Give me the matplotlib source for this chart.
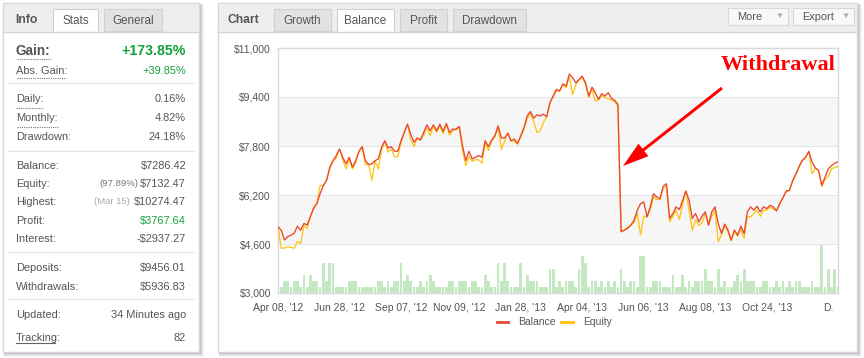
import matplotlib
matplotlib.use('Agg')
import matplotlib.pyplot as plt
from matplotlib.patches import Rectangle, FancyArrow
import numpy as np

# ---------------- data ----------------
balance = [
    5160, 5050, 4730, 4840, 4890, 4950, 5180, 5050, 5270, 5220, 5490, 5760, 5920, 6240, 6510,
    6680, 7110, 7320, 7490, 7700, 7430, 7220, 7430, 7110, 7320, 7630, 7780, 7320, 7200, 7220,
    7320, 7380, 7760, 7970, 7740, 7780, 7630, 7630, 7970, 8240, 8510, 8190, 7920, 8060,
    7995, 8243, 8492, 8297, 8492, 8297, 8514, 8276, 8535, 8243, 8351, 8351, 8438, 7811, 7324,
    7627, 7378, 7432, 7487, 7432, 7973, 7778, 7995, 8135, 8460, 8060, 8060, 8211, 7973, 8027,
    7887, 8135, 8405, 8784, 8924, 8708, 8816, 8784, 8838, 8751, 9216, 9432, 9649,
    9594, 9832, 9757, 10150, 10027, 9865, 9973, 10081, 9865, 9432, 9724, 9540, 9324, 9508, 9432,
    9540, 9357, 9292, 9162, 5000, 5054, 5108, 5216, 5378, 5703, 5919, 5973, 5486, 5811, 6243,
    6135, 6081, 6481, 6568, 5432, 5595, 5811, 5725, 6027, 6330, 6027, 5432, 5595, 5324, 5508,
    5649, 5216, 5649, 5811, 5270, 4946, 5249, 5054, 4730, 5054, 4892, 5184, 4946, 5649, 5811,
    5703, 5832, 5649, 5811, 5757, 5865, 5811, 5681, 5919, 6113, 6330, 6351, 6676, 6892, 7130,
    7324, 7432, 7627, 7270, 7086, 7000, 6514, 6784, 7054, 7162, 7238, 7286,
]
equity = [
    5160, 4460, 4470, 4510, 4490, 4460, 4680, 4620, 5200, 5110, 5490, 5800, 5920, 6510, 6510,
    6680, 7050, 7300, 7400, 7700, 7350, 7050, 7380, 7050, 7250, 7600, 7780, 7180, 7200, 6680,
    7300, 7050, 7700, 7950, 7600, 7700, 7450, 7450, 7900, 8240, 8510, 8000, 7780, 8060,
    7995, 8150, 8400, 8140, 8450, 8250, 8450, 8200, 8500, 8150, 8300, 8330, 8400, 7650, 7160,
    7450, 7300, 7350, 7350, 7240, 7900, 7650, 7950, 8100, 8400, 7700, 7950, 8240, 7950, 7950,
    7850, 8100, 8350, 8700, 8850, 8600, 8240, 8300, 8570, 8750, 9200, 9400, 9600,
    9594, 9800, 9700, 10050, 9480, 9800, 9950, 10050, 9800, 9380, 9650, 9270, 9300, 9450, 9380,
    9350, 9300, 9250, 9100, 5000, 5054, 5150, 5200, 5300, 5600, 4890, 5500, 5486, 5700, 6150,
    6050, 6050, 6400, 6500, 5324, 5500, 5700, 5400, 5900, 6330, 5700, 5054, 5400, 5200, 5300,
    5600, 5216, 5500, 5700, 4676, 4900, 5200, 5000, 4700, 5000, 4850, 5100, 4784, 5500, 5486,
    5600, 5700, 5500, 5700, 5700, 5800, 5750, 5681, 5900, 6113, 6300, 6351, 6650, 6850, 7130,
    7350, 7432, 7600, 6892, 7086, 7000, 6481, 6700, 6808, 7054, 7100, 7132,
]
volume = [
    3180, 3180, 3380, 3380, 3180, 3380, 3380, 3180, 3600, 3180,
    3600, 3380, 3380, 3180, 3980, 3380, 3980, 3980, 3180, 3180,
    3180, 3180, 3380, 3380, 3380, 3180, 3180, 3180, 3180, 3180,
    3180, 3380, 3380, 3180, 3380, 3180, 3380, 3380, 3980, 3380,
    3600, 3380, 3180, 3180, 3380, 3180, 3380, 3600, 3380, 3180,
    3180, 3180, 3180, 3380, 3380, 3180, 3380, 3380, 3380, 3180,
    3380, 3380, 3180, 3180, 3600, 3380, 3180, 3180, 3980, 3380,
    3980, 3380, 3180, 3180, 3180, 3980, 3180, 3600, 3380, 3380,
    3380, 3180, 3180, 3180, 3780, 3780, 3180, 3380, 3180, 3380,
    3380, 3380, 3180, 3780, 4200, 3980, 3180, 3380, 3380, 3180,
    3380, 3180, 3380, 3180, 3380, 3180, 3780, 3380, 3180, 3380,
    3380, 3180, 4200, 4200, 3180, 3180, 3380, 3380, 3380, 3180,
    3180, 3180, 3600, 3180, 3180, 3600, 3180, 3380, 3180, 3380,
    3380, 3380, 3780, 3380, 3380, 3180, 3780, 3180, 3380, 3180,
    3180, 3380, 3600, 3380, 3780, 3380, 3380, 3380, 3180, 3180,
    3380, 3380, 3180, 3180, 3380, 3180, 3380, 3180, 3380, 3180,
    3380, 3380, 3180, 3180, 3180, 3380, 3180, 3180, 4580, 3180,
    3780, 3180, 3780, 3180,
]
x_tick_idx = [0, 19, 38, 56, 75, 94, 113, 132, 151, 170]
x_tick_labels = ["Apr 08, '12", "Jun 28, '12", "Sep 07, '12", "Nov 09, '12", "Jan 28, '13",
                 "Apr 04, '13", "Jun 06, '13", "Aug 08, '13", "Oct 24, '13", "D."]
y_ticks = [3000, 4600, 6200, 7800, 9400, 11000]
y_tick_labels = ["$3,000", "$4,600", "$6,200", "$7,800", "$9,400", "$11,000"]

info_rows = [
    ("Daily:", "0.16%"), ("Monthly:", "4.82%"), ("Drawdown:", "24.18%"),
    ("Balance:", "$7286.42"), ("Profit:", "$3767.64"), ("Interest:", "-$2937.27"),
    ("Deposits:", "$9456.01"), ("Withdrawals:", "$5936.83"), ("Updated:", "34 Minutes ago"),
    ("Tracking:", "82"),
]
chart_tabs = ["Growth", "Balance", "Profit", "Drawdown"]

# ---------------- figure ----------------
W, H = 864, 358
fig = plt.figure(figsize=(W / 100, H / 100), dpi=100)
fig.patch.set_facecolor('white')
plt.rcParams['font.family'] = ['Liberation Sans', 'DejaVu Sans']

bg = fig.add_axes([0, 0, 1, 1], zorder=0)
bg.set_xlim(0, W); bg.set_ylim(H, 0); bg.axis('off')

TXT = '#555555'
GREEN = '#13a23a'
BORDER = '#d6d6d6'

def panel(x0, y0, x1, y1):
    # shadow
    for k, a in [(4, 0.04), (3, 0.05), (2, 0.07), (1, 0.09)]:
        bg.add_patch(Rectangle((x0 + 1, y0 + 1), x1 - x0 + k, y1 - y0 + k,
                               facecolor='black', alpha=a, edgecolor='none'))
    bg.add_patch(Rectangle((x0, y0), x1 - x0, y1 - y0, facecolor='white',
                           edgecolor=BORDER, lw=1))
    bg.add_patch(Rectangle((x0 + 0.5, y0 + 0.5), x1 - x0 - 1, 28, facecolor='#eeeeee',
                           edgecolor='none'))
    bg.plot([x0, x1], [y0 + 28.5, y0 + 28.5], color=BORDER, lw=1)

def tab(x0, x1, label, selected):
    fc = 'white' if selected else '#e2e2e2'
    bg.add_patch(Rectangle((x0, 9), x1 - x0, 22.5 if selected else 22, facecolor=fc,
                           edgecolor='#d0d0d0', lw=0.8))
    if selected:
        bg.add_patch(Rectangle((x0 + 0.6, 30), x1 - x0 - 1.2, 3, facecolor='white',
                               edgecolor='none'))
    bg.text((x0 + x1) / 2, 21, label, ha='center', va='center', fontsize=8.4, color=TXT)

# left panel
panel(3, 3, 199, 352)
bg.text(15, 20, "Info", ha='left', va='center', fontsize=8.7, fontweight='bold', color=TXT)
tab(53, 98, "Stats", True)
tab(104, 162, "General", False)

LX, RX = 16, 186
bg.text(LX, 51, "Gain:", ha='left', va='center', fontsize=9.8, fontweight='bold', color=TXT)
bg.text(RX, 51, "+173.85%", ha='right', va='center', fontsize=10.2, fontweight='bold', color=GREEN)
bg.plot([17, 51], [59, 59], color='#777777', lw=0.8, ls=(0, (1, 1)))
bg.text(LX, 71, "Abs. Gain:", ha='left', va='center', fontsize=7.9, color=TXT)
bg.text(RX, 71, "+39.85%", ha='right', va='center', fontsize=7.9, color=GREEN)
bg.plot([17, 66], [78, 78], color='#777777', lw=0.8, ls=(0, (1, 1)))

for y in [83, 151, 252, 299]:
    bg.plot([8, 194], [y, y], color='#e6e6e6', lw=1)

row_y = [99, 118, 137, 166, 221, 239, 268, 287, 315, 338]
for (lab, val), y in zip(info_rows, row_y):
    bg.text(LX, y, lab, ha='left', va='center', fontsize=7.9, color=TXT)
    col = GREEN if lab == "Profit:" else TXT
    bg.text(RX, y, val, ha='right', va='center', fontsize=7.9, color=col)
bg.plot([16, 43], [108, 108], color='#777777', lw=0.8, ls=(0, (1, 1)))
bg.plot([17, 58], [127, 127], color='#777777', lw=0.8, ls=(0, (1, 1)))
bg.plot([16, 55], [343, 343], color='#666666', lw=0.8)

# equity / highest rows with small gray notes
bg.text(LX, 184, "Equity:", ha='left', va='center', fontsize=7.9, color=TXT)
bg.text(RX, 184, "$7132.47", ha='right', va='center', fontsize=7.9, color=TXT)
bg.text(138, 184, "(97.89%)", ha='right', va='center', fontsize=6.8, color='#777777')
bg.text(LX, 202, "Highest:", ha='left', va='center', fontsize=7.9, color=TXT)
bg.text(RX, 202, "$10274.47", ha='right', va='center', fontsize=7.9, color=TXT)
bg.text(130, 202, "(Mar 15)", ha='right', va='center', fontsize=6.8, color='#aaaaaa')

# chart panel
panel(218, 3, 857, 352)
bg.text(228, 20, "Chart", ha='left', va='center', fontsize=8.7, fontweight='bold', color=TXT)
for (x0, x1), lab in zip([(274, 331), (337, 394), (400, 447), (453, 526)], chart_tabs):
    tab(x0, x1, lab, lab == "Balance")
for (x0, x1), lab in zip([(728, 788), (793, 854)], ["More", "Export"]):
    bg.add_patch(Rectangle((x0, 8), x1 - x0, 17, facecolor='#f8f8f8', edgecolor='#d8d8d8', lw=0.8))
    bg.text(x0 + 9, 16.5, lab, ha='left', va='center', fontsize=7.9, color=TXT)
    bg.text(x1 - 9, 16.5, "\u25BC", ha='center', va='center', fontsize=6, color='#aaaaaa')

# ---------------- chart axes ----------------
ax = fig.add_axes([278 / W, (H - 293) / H, 560 / W, 245 / H], zorder=2)
ax.set_facecolor('white')
n = len(balance)
idx = np.arange(n)
ax.axhspan(4600, 6200, color='#f6f6f6', zorder=0, lw=0)
ax.axhspan(7800, 9400, color='#f6f6f6', zorder=0, lw=0)
for yv in y_ticks:
    ax.axhline(yv, color='#e6e6e6', lw=0.8, zorder=0.5)
vol = np.array(volume)
ax.bar(idx, vol - 3000, bottom=3000, width=0.85, color='#c5e8c3', lw=0, zorder=1)
ax.plot(idx, equity, color='#ffc20e', lw=0.9, zorder=3)
ax.plot(idx, balance, color='#e9462f', lw=0.95, zorder=4)
ax.set_xlim(0, n - 1)
ax.set_ylim(3000, 11000)
ax.set_yticks(y_ticks)
ax.set_yticklabels(y_tick_labels)
ax.set_xticks(x_tick_idx)
ax.set_xticklabels(x_tick_labels)
ax.tick_params(axis='both', length=0, labelsize=7.5, colors=TXT)
ax.tick_params(axis='y', pad=5)
ax.tick_params(axis='x', pad=7)
for s in ax.spines.values():
    s.set_color('#d9d9d9'); s.set_linewidth(1)

# ---------------- foreground overlay ----------------
fg = fig.add_axes([0, 0, 1, 1], zorder=5)
fg.set_xlim(0, W); fg.set_ylim(H, 0); fg.axis('off'); fg.patch.set_alpha(0)
# legend
fg.plot([497, 508], [322, 322], color='#e9462f', lw=2)
fg.text(518, 322, "Balance", ha='left', va='center', fontsize=7.5, color=TXT)
fg.plot([561, 573], [322, 322], color='#ffc20e', lw=2)
fg.text(583, 322, "Equity", ha='left', va='center', fontsize=7.5, color=TXT)
# withdrawal annotation
fg.text(778, 65, "Withdrawal", ha='center', va='center', fontsize=16, fontweight='bold',
        color='#ff0000', family=['Liberation Serif', 'DejaVu Serif'])
fg.add_patch(FancyArrow(722, 88, 623 - 722, 166 - 88, width=3, head_width=16,
                        head_length=26, length_includes_head=True, color='#ff0000', lw=0))

fig.savefig('out.png', dpi=100)
